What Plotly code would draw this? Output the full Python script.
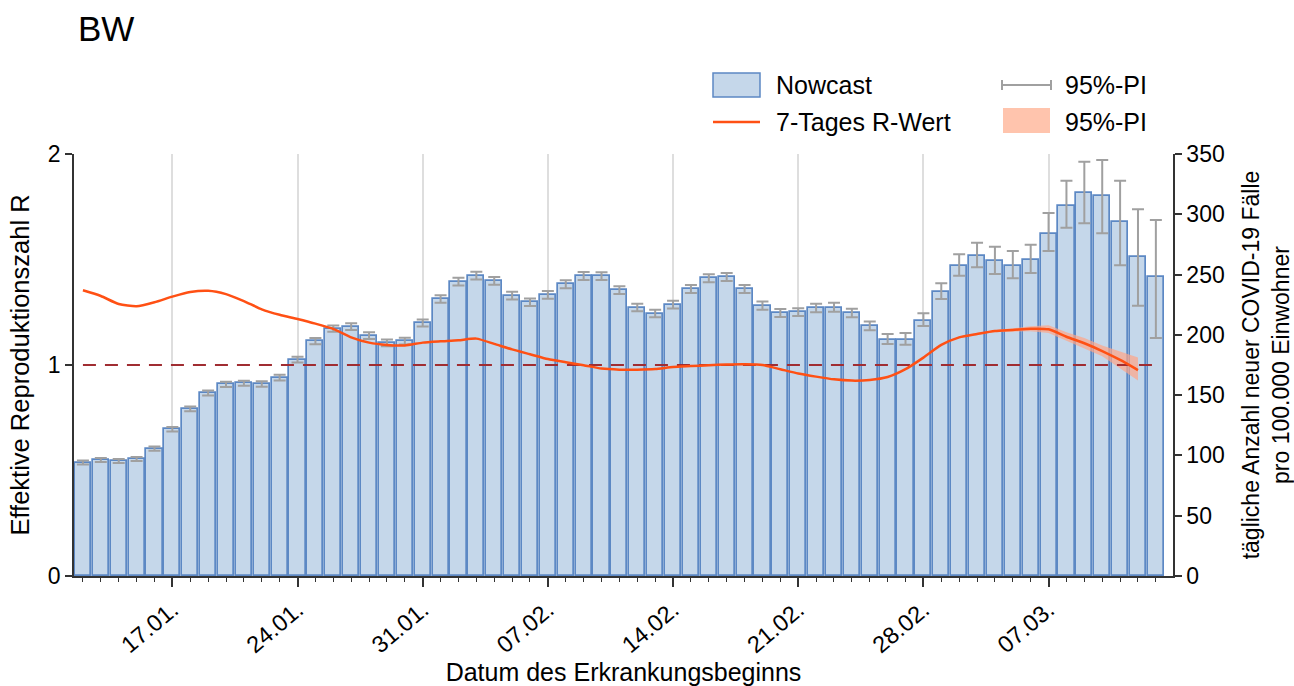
import datetime as dt
import plotly.graph_objects as go

# ---------------- data ----------------
start = dt.date(2021, 1, 12)
dates = [(start + dt.timedelta(days=i)).isoformat() for i in range(61)]

nowcast = [94.0, 96.2, 95.4, 97.0, 105.6, 121.6, 138.5, 151.8, 158.9, 159.8,
           159.2, 164.5, 179.4, 194.7, 205.1, 206.8, 199.3, 193.3, 194.7, 209.8,
           229.7, 244.1, 249.1, 244.7, 232.5, 227.0, 233.1, 241.9, 248.8, 248.6,
           237.0, 222.6, 217.6, 225.0, 238.0, 246.9, 248.0, 238.0, 224.2, 218.1,
           218.7, 222.0, 222.6, 217.9, 207.1, 195.7, 195.7, 211.5, 235.3, 256.9,
           265.2, 261.0, 257.4, 262.1, 283.4, 307.1, 317.9, 315.2, 293.9, 264.3,
           248.0]

nowcast_lower = [92.4, 94.6, 93.8, 95.4, 103.9, 119.8, 136.6, 149.8, 156.8, 157.7,
                 157.0, 162.2, 177.0, 192.2, 202.5, 204.1, 196.6, 190.6, 191.9, 206.9,
                 226.7, 241.0, 245.9, 241.5, 229.4, 223.9, 230.0, 238.7, 245.6, 245.4,
                 233.8, 219.5, 214.5, 221.8, 234.8, 243.6, 244.7, 234.7, 220.9, 214.9,
                 215.6, 218.7, 219.2, 214.6, 203.8, 192.4, 191.8, 207.4, 229.7, 249.1,
                 256.0, 250.5, 246.9, 251.3, 269.6, 288.9, 292.5, 284.2, 257.7, 224.2,
                 197.4]

nowcast_upper = [95.7, 97.9, 97.1, 98.7, 107.4, 123.5, 140.5, 153.9, 161.1, 162.0,
                 161.5, 166.9, 181.9, 197.3, 207.8, 209.6, 202.1, 196.1, 197.6, 212.8,
                 232.8, 247.3, 252.4, 248.0, 235.7, 230.2, 236.3, 245.2, 252.1, 251.9,
                 240.3, 225.8, 220.8, 228.3, 241.3, 250.3, 251.4, 241.4, 227.6, 221.4,
                 222.0, 225.8, 226.7, 221.7, 211.0, 200.7, 201.5, 217.9, 242.8, 266.8,
                 276.4, 273.1, 269.5, 274.8, 301.1, 327.9, 343.6, 345.0, 327.9, 304.1,
                 295.3]

r_dates = dates[:60]
r_value = [1.354, 1.327, 1.289, 1.278, 1.297, 1.324, 1.346, 1.352, 1.336, 1.303,
           1.264, 1.238, 1.218, 1.196, 1.171, 1.131, 1.106, 1.095, 1.093, 1.106,
           1.112, 1.117, 1.125, 1.100, 1.074, 1.051, 1.028, 1.013, 0.999, 0.983,
           0.978, 0.978, 0.981, 0.991, 0.995, 0.999, 1.002, 1.003, 1.000, 0.980,
           0.960, 0.945, 0.932, 0.926, 0.929, 0.943, 0.980, 1.035, 1.095, 1.131,
           1.147, 1.161, 1.166, 1.172, 1.169, 1.134, 1.103, 1.066, 1.024, 0.976]

band_dates = dates[49:60]
r_lower = [1.128, 1.143, 1.156, 1.158, 1.160, 1.152, 1.114, 1.078, 1.041, 0.985, 0.926]
r_upper = [1.134, 1.151, 1.166, 1.174, 1.184, 1.188, 1.155, 1.128, 1.093, 1.064, 1.036]

ref_dates = [dates[0], dates[-1]]
ref_value = [1, 1]

# ---------------- styling ----------------
FONT = "Liberation Sans, Arial, sans-serif"
BAR_FILL = "rgb(197,215,234)"
BAR_LINE = "rgb(92,136,196)"
ERR_COL = "rgb(160,160,160)"
R_COL = "rgb(255,80,20)"
BAND_COL = "rgba(255,165,135,0.7)"
REF_COL = "rgb(160,45,50)"
AX_COL = "#333333"

W, H = 1294, 686
L, R, T, B = 74, 121, 154, 110
pw, ph = W - L - R, H - T - B


def px(x):
    return (x - L) / pw


def py(y):
    return (H - B - y) / ph


err_plus = [u - v for u, v in zip(nowcast_upper, nowcast)]
err_minus = [v - l for v, l in zip(nowcast, nowcast_lower)]

fig = go.Figure()

fig.add_trace(go.Bar(
    x=dates, y=nowcast, name="Nowcast",
    width=0.9 * 86400000,
    marker=dict(color=BAR_FILL, line=dict(color=BAR_LINE, width=1.7)),
    error_y=dict(type="data", symmetric=False, array=err_plus, arrayminus=err_minus,
                 color=ERR_COL, thickness=2, width=6),
    yaxis="y", showlegend=False,
))

fig.add_trace(go.Scatter(
    x=list(band_dates) + list(band_dates[::-1]),
    y=list(r_upper) + list(r_lower[::-1]),
    fill="toself", fillcolor=BAND_COL, line=dict(width=0),
    mode="lines", yaxis="y2", showlegend=False, hoverinfo="skip",
))

fig.add_trace(go.Scatter(
    x=ref_dates, y=ref_value, mode="lines",
    line=dict(color=REF_COL, width=2, dash="13px,9px"),
    yaxis="y2", showlegend=False,
))

fig.add_trace(go.Scatter(
    x=r_dates, y=r_value, mode="lines", name="7-Tages R-Wert",
    line=dict(color=R_COL, width=2.5, shape="spline", smoothing=0.6),
    yaxis="y2", showlegend=False,
))

# ---------------- manual legend ----------------
shapes = []
annotations = []
LEG_FONT = dict(size=25, color="#000", family=FONT)
shapes.append(dict(type="rect", xref="paper", yref="paper",
                   x0=px(713), x1=px(760), y0=py(97), y1=py(73),
                   fillcolor=BAR_FILL, line=dict(color=BAR_LINE, width=1.5)))
annotations.append(dict(xref="paper", yref="paper", x=px(774), y=py(85),
                        text="Nowcast", showarrow=False, xanchor="left", yanchor="middle",
                        font=LEG_FONT))
shapes.append(dict(type="line", xref="paper", yref="paper",
                   x0=px(713), x1=px(760), y0=py(122), y1=py(122),
                   line=dict(color=R_COL, width=2.5)))
annotations.append(dict(xref="paper", yref="paper", x=px(774), y=py(122),
                        text="7-Tages R-Wert", showarrow=False, xanchor="left", yanchor="middle",
                        font=LEG_FONT))
shapes.append(dict(type="line", xref="paper", yref="paper",
                   x0=px(1002), x1=px(1051), y0=py(85), y1=py(85),
                   line=dict(color=ERR_COL, width=2)))
for xx in (1002, 1051):
    shapes.append(dict(type="line", xref="paper", yref="paper",
                       x0=px(xx), x1=px(xx), y0=py(80), y1=py(90),
                       line=dict(color=ERR_COL, width=2)))
annotations.append(dict(xref="paper", yref="paper", x=px(1063), y=py(85),
                        text="95%-PI", showarrow=False, xanchor="left", yanchor="middle",
                        font=LEG_FONT))
shapes.append(dict(type="rect", xref="paper", yref="paper",
                   x0=px(1003), x1=px(1050), y0=py(133), y1=py(108),
                   fillcolor="rgb(255,196,173)", line=dict(width=0)))
annotations.append(dict(xref="paper", yref="paper", x=px(1063), y=py(122),
                        text="95%-PI", showarrow=False, xanchor="left", yanchor="middle",
                        font=LEG_FONT))

fig.update_layout(
    width=W, height=H,
    margin=dict(l=L, r=R, t=T, b=B, autoexpand=False),
    paper_bgcolor="white", plot_bgcolor="white",
    font=dict(family=FONT, size=23, color="#000"),
    title=dict(text="BW", x=78 / W, xref="container", xanchor="left",
               y=1 - 29 / H, yref="container", yanchor="middle",
               font=dict(size=35, color="#000", family=FONT)),
    showlegend=False,
    bargap=0,
    shapes=shapes,
    annotations=annotations,
    xaxis=dict(
        type="date",
        range=["2021-01-11 12:00", "2021-03-13 23:00"],
        tick0="2021-01-17", dtick=7 * 86400000,
        tickformat="%d.%m.", tickangle=-40,
        ticks="outside", ticklen=9, tickwidth=1.5, tickcolor=AX_COL,
        tickfont=dict(size=23.5),
        minor=dict(dtick=86400000, ticks="outside", ticklen=4, tickwidth=1.2,
                   tickcolor=AX_COL, showgrid=False),
        showgrid=True, gridcolor="rgb(222,222,222)", gridwidth=2,
        showline=True, linecolor=AX_COL, linewidth=1.5,
        zeroline=False,
        title=dict(text="Datum des Erkrankungsbeginns", font=dict(size=25), standoff=3),
        anchor="y",
    ),
    yaxis=dict(
        side="right", range=[0, 350], dtick=50,
        ticks="outside", ticklen=7, tickwidth=1.5, tickcolor=AX_COL,
        tickfont=dict(size=23),
        showline=True, linecolor=AX_COL, linewidth=1.5,
        showgrid=False, zeroline=False,
        title=dict(text="tägliche Anzahl neuer COVID-19 Fälle<br>pro 100.000 Einwohner",
                   font=dict(size=23), standoff=24),
    ),
    yaxis2=dict(
        overlaying="y", side="left", range=[0, 2], dtick=1,
        ticks="outside", ticklen=7, tickwidth=1.5, tickcolor=AX_COL,
        tickfont=dict(size=23),
        showline=True, linecolor=AX_COL, linewidth=1.5,
        showgrid=False, zeroline=False,
        title=dict(text="Effektive Reproduktionszahl R", font=dict(size=25.5), standoff=11),
    ),
)

fig.write_html("out.html", config={"displayModeBar": False},
               post_script="document.body.style.margin='0';document.body.style.overflow='hidden';")
